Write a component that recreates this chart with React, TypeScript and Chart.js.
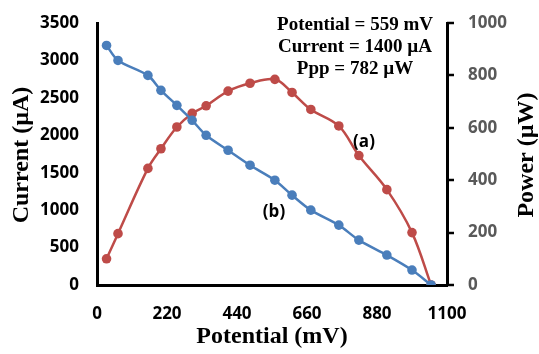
import React, { useEffect, useRef } from "react";
import { Chart, registerables } from "chart.js";

Chart.register(...registerables);

const potential = [30, 66, 160, 201, 251, 299, 343, 412, 481, 559, 613, 672, 760, 823, 911, 990, 1050];
const current = [3200, 3000, 2800, 2600, 2400, 2200, 2000, 1800, 1600, 1400, 1200, 1000, 800, 600, 400, 200, 0];
const power = [100, 196, 445, 520, 603, 655, 684, 740, 770, 785, 735, 670, 607, 494, 364, 200, 0];
const infoLines = ["Potential = 559 mV", "Current = 1400 µA", "Ppp = 782 µW"];

const BLUE = "#4A7EBB";
const RED = "#BE4B48";

const textPlugin = {
  id: "texts",
  afterDraw(chart: any) {
    const ctx = chart.ctx;
    ctx.save();
    // right axis tick marks
    const y1 = chart.scales.y1;
    ctx.strokeStyle = "#000";
    ctx.lineWidth = 2.5;
    [0, 200, 400, 600, 800, 1000].forEach((v) => {
      const py = Math.round(y1.getPixelForValue(v));
      ctx.beginPath();
      ctx.moveTo(y1.left, py);
      ctx.lineTo(y1.left + 7, py);
      ctx.stroke();
    });
    ctx.fillStyle = "#000";
    ctx.textAlign = "center";
    ctx.textBaseline = "middle";
    ctx.font = "bold 24px 'Liberation Serif', 'Times New Roman', serif";
    ctx.fillText("Potential (mV)", 272, 337);
    ctx.save();
    ctx.translate(22, 155);
    ctx.rotate(-Math.PI / 2);
    ctx.fillText("Current (µA)", 0, 0);
    ctx.restore();
    ctx.save();
    ctx.translate(527, 155);
    ctx.rotate(-Math.PI / 2);
    ctx.fillText("Power (µW)", 0, 0);
    ctx.restore();
    ctx.font = "bold 19px 'Liberation Serif', 'Times New Roman', serif";
    infoLines.forEach((t, i) => ctx.fillText(t, 355, 25 + i * 22));
    ctx.font = "bold 17px 'Open Sans', sans-serif";
    ctx.fillText("(a)", 364, 142);
    ctx.fillText("(b)", 274, 212);
    ctx.restore();
  },
};

export default function App() {
  const ref = useRef<HTMLCanvasElement>(null);
  useEffect(() => {
    document.body.style.margin = "0";
    const tickFont = { family: "'Open Sans', sans-serif", size: 17, weight: "bold" as const };
    const plain = (v: any) => String(v);
    const chart = new Chart(ref.current!, {
      type: "line",
      data: {
        datasets: [
          {
            label: "Current",
            data: potential.map((x, i) => ({ x, y: current[i] })),
            borderColor: BLUE,
            backgroundColor: BLUE,
            borderWidth: 2.5,
            pointRadius: 4.8,
            pointBorderWidth: 0,
            tension: 0.3,
            yAxisID: "y",
          },
          {
            label: "Power",
            data: potential.map((x, i) => ({ x, y: power[i] })),
            borderColor: RED,
            backgroundColor: RED,
            borderWidth: 2.5,
            pointRadius: 4.8,
            pointBorderWidth: 0,
            tension: 0.35,
            yAxisID: "y1",
          },
        ],
      },
      options: {
        animation: false,
        responsive: true,
        maintainAspectRatio: false,
        layout: { padding: { top: 23, left: 0, right: 0, bottom: 0 } },
        plugins: { legend: { display: false }, tooltip: { enabled: false } },
        scales: {
          x: {
            type: "linear",
            min: 0,
            max: 1100,
            ticks: { stepSize: 220, color: "#000", font: tickFont, padding: 19, maxRotation: 0, callback: plain },
            grid: { display: false, drawTicks: false },
            border: { color: "#000", width: 3 },
            afterFit: (s: any) => { s.height = 69; s.paddingLeft = 0; s.paddingRight = 0; },
          },
          y: {
            position: "left",
            min: 0,
            max: 3500,
            ticks: { stepSize: 500, color: "#000", font: tickFont, padding: 18, callback: plain },
            grid: { display: false, drawTicks: false },
            border: { color: "#000", width: 3 },
            afterFit: (s: any) => { s.width = 97; s.paddingTop = 0; s.paddingBottom = 0; },
          },
          y1: {
            position: "right",
            min: 0,
            max: 1000,
            ticks: { stepSize: 200, color: "#595959", font: tickFont, padding: 21, callback: plain },
            grid: { display: false, drawTicks: false },
            border: { color: "#000", width: 3 },
            afterFit: (s: any) => { s.width = 92; s.paddingTop = 0; s.paddingBottom = 0; },
          },
        },
      },
      plugins: [textPlugin],
    });
    return () => chart.destroy();
  }, []);
  return (
    <div style={{ position: "fixed", left: 0, top: 0, width: 539, height: 354, background: "#fff" }}>
      <canvas ref={ref} />
    </div>
  );
}
